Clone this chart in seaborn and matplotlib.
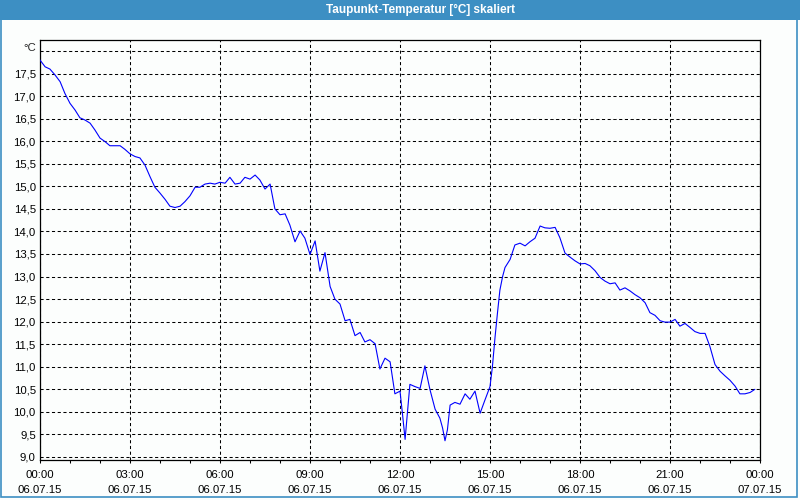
import matplotlib
matplotlib.use("Agg")
import matplotlib.pyplot as plt
import seaborn as sns
import pandas as pd
from matplotlib.patches import Rectangle

# ---- data ----
hours = [0.0, 0.17, 0.33, 0.5, 0.67, 0.83, 1.0, 1.17, 1.33, 1.5, 1.67, 1.83, 2.0, 2.17,
         2.33, 2.67, 2.83, 3.0, 3.17, 3.33, 3.5, 3.67, 3.83, 4.0, 4.17, 4.33, 4.5, 4.67,
         4.83, 5.0, 5.17, 5.33, 5.5, 5.67, 5.83, 6.0, 6.17, 6.33, 6.5, 6.67, 6.83, 7.0,
         7.17, 7.33, 7.5, 7.67, 7.83, 8.0, 8.17, 8.33, 8.5, 8.67, 8.83, 9.0, 9.17, 9.33,
         9.5, 9.67, 9.83, 10.0, 10.17, 10.33, 10.5, 10.67, 10.83, 11.0, 11.17, 11.33, 11.5,
         11.67, 11.83, 12.0, 12.08, 12.17, 12.25, 12.33, 12.5, 12.67, 12.83, 13.0, 13.17,
         13.33, 13.42, 13.5, 13.58, 13.67, 13.83, 14.0, 14.17, 14.33, 14.5, 14.67, 14.83,
         15.0, 15.08, 15.17, 15.25, 15.33, 15.42, 15.5, 15.67, 15.83, 16.0, 16.17, 16.33,
         16.5, 16.67, 16.83, 17.0, 17.17, 17.33, 17.5, 17.67, 17.83, 18.0, 18.17, 18.33,
         18.5, 18.67, 18.83, 19.0, 19.17, 19.33, 19.5, 19.67, 19.83, 20.0, 20.17, 20.33,
         20.5, 20.67, 20.83, 21.0, 21.17, 21.33, 21.5, 21.67, 21.83, 22.0, 22.17, 22.33,
         22.5, 22.67, 22.83, 23.0, 23.17, 23.33, 23.5, 23.67, 23.83]
dewpoint = [17.80, 17.65, 17.60, 17.47, 17.32, 17.06, 16.84, 16.69, 16.52, 16.47, 16.40,
            16.25, 16.07, 15.99, 15.90, 15.90, 15.82, 15.72, 15.66, 15.63, 15.47, 15.21,
            14.98, 14.85, 14.71, 14.56, 14.53, 14.56, 14.66, 14.79, 14.98, 14.98, 15.05,
            15.07, 15.05, 15.09, 15.07, 15.20, 15.05, 15.07, 15.20, 15.16, 15.25, 15.14,
            14.94, 15.05, 14.50, 14.37, 14.39, 14.14, 13.77, 14.01, 13.85, 13.49, 13.79,
            13.12, 13.53, 12.78, 12.50, 12.39, 12.02, 12.05, 11.69, 11.76, 11.55, 11.60,
            11.51, 10.95, 11.19, 11.11, 10.40, 10.46, 9.97, 9.39, 10.00, 10.61, 10.56,
            10.52, 11.02, 10.49, 10.06, 9.86, 9.64, 9.36, 9.60, 10.15, 10.21, 10.17, 10.40,
            10.28, 10.46, 9.97, 10.26, 10.56, 11.00, 11.67, 12.20, 12.70, 13.00, 13.20,
            13.38, 13.70, 13.74, 13.68, 13.77, 13.85, 14.12, 14.08, 14.07, 14.09, 13.86,
            13.52, 13.43, 13.35, 13.28, 13.29, 13.24, 13.13, 12.98, 12.90, 12.84, 12.86,
            12.70, 12.75, 12.68, 12.60, 12.53, 12.42, 12.20, 12.14, 12.02, 11.99, 11.99,
            12.05, 11.90, 11.96, 11.87, 11.78, 11.74, 11.74, 11.45, 11.05, 10.90, 10.80,
            10.70, 10.57, 10.40, 10.40, 10.43, 10.50]

x_tick_hours = [0, 3, 6, 9, 12, 15, 18, 21, 24]
x_tick_labels = ["00:00\n06.07.15", "03:00\n06.07.15", "06:00\n06.07.15",
                 "09:00\n06.07.15", "12:00\n06.07.15", "15:00\n06.07.15",
                 "18:00\n06.07.15", "21:00\n06.07.15", "00:00\n07.07.15"]
y_ticks = [9.0, 9.5, 10.0, 10.5, 11.0, 11.5, 12.0, 12.5, 13.0, 13.5, 14.0, 14.5,
           15.0, 15.5, 16.0, 16.5, 17.0, 17.5, 18.0]
y_tick_labels = ["9,0", "9,5", "10,0", "10,5", "11,0", "11,5", "12,0", "12,5", "13,0",
                 "13,5", "14,0", "14,5", "15,0", "15,5", "16,0", "16,5", "17,0", "17,5", ""]
title = "Taupunkt-Temperatur [°C] skaliert"
unit = "°C"

# ---- style ----
sns.set_style("white")
plt.rcParams["font.family"] = ["Liberation Sans", "DejaVu Sans"]
bg = "#fcfefd"
bar_blue = "#3d8fc3"

fig = plt.figure(figsize=(8, 5), dpi=100, facecolor=bg)
ax = fig.add_axes([0.05, 0.08, 0.90, 0.84])
ax.set_facecolor(bg)

df = pd.DataFrame({"hour": hours, "dewpoint": dewpoint})
sns.lineplot(data=df, x="hour", y="dewpoint", ax=ax, color="#0000ff",
             linewidth=0.8, zorder=3)

ax.set_xlim(0, 24)
ax.set_ylim(8.933, 18.244)
ax.set_xticks(x_tick_hours)
ax.set_xticklabels(x_tick_labels, fontsize=8.2, linespacing=1.55)
ax.set_xticks(range(25), minor=True)
ax.set_yticks(y_ticks)
ax.set_yticklabels(y_tick_labels, fontsize=8.2)
ax.set_xlabel("")
ax.set_ylabel("")

ax.tick_params(axis="x", which="both", direction="out", length=2.3, width=0.75,
               color="black", pad=5, labelcolor="black", bottom=True)
ax.tick_params(axis="y", which="both", length=0, pad=3, labelcolor="black")

ax.grid(True, which="major", color="black", linestyle=(0, (3, 2.5)), linewidth=0.75)
ax.grid(False, which="minor")
for s in ax.spines.values():
    s.set_visible(True)
    s.set_color("black")
    s.set_linewidth(0.9)

ax.annotate(unit, xy=(0, 1), xycoords="axes fraction", xytext=(-3, -6),
            textcoords="offset points", ha="right", va="center", fontsize=8.2)

# title bar and frame
fig.add_artist(Rectangle((0, 480 / 500), 1, 20 / 500, transform=fig.transFigure,
                         facecolor=bar_blue, edgecolor="none", zorder=0))
fig.text(0.525, 0.98, title, color="white", fontsize=8.5, fontweight="bold",
         ha="center", va="center")
fig.add_artist(Rectangle((0.0008, 0.006), 0.995, 0.99, transform=fig.transFigure,
                         fill=False, edgecolor=bar_blue, linewidth=1.2))

fig.savefig("out.png", dpi=100, facecolor=bg)
